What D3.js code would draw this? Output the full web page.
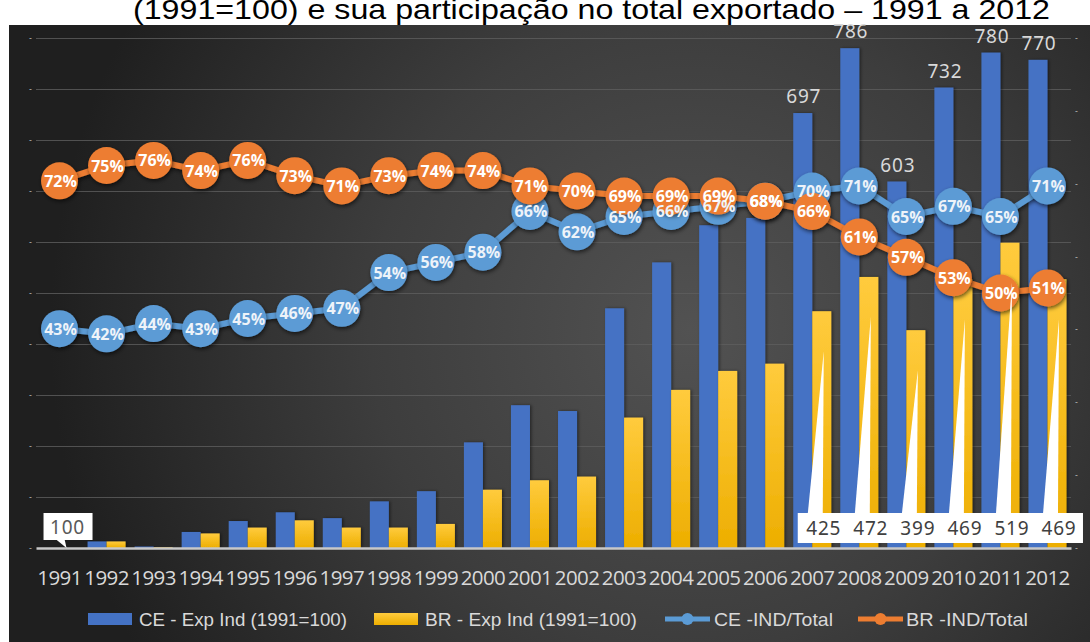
<!DOCTYPE html>
<html><head><meta charset="utf-8">
<script src="https://cdn.jsdelivr.net/npm/d3@7"></script>
<style>body{margin:0;background:#fff;} svg{display:block}</style>
</head><body>
<svg id="chart" width="1090" height="642"></svg>
<script>
// ---- data ----
const titleText = "(1991=100) e sua participação no total exportado – 1991 a 2012";
const years = ["1991","1992","1993","1994","1995","1996","1997","1998","1999","2000","2001","2002","2003","2004","2005","2006","2007","2008","2009","2010","2011","2012"];
const ceExp = [100,109,102,122,137,149,141,164,178,245,296,288,429,492,543,553,697,786,603,732,780,770];
const brExp = [100,109,101,120,128,138,128,128,133,180,193,198,279,317,343,353,425,472,399,469,519,469];
const ceShare = [43,42,44,43,45,46,47,54,56,58,66,62,65,66,67,68,70,71,65,67,65,71];
const brShare = [72,75,76,74,76,73,71,73,74,74,71,70,69,69,69,68,66,61,57,53,50,51];
const barTicks = [100,200,300,400,500,600,700,800];
const seriesNames = ["CE - Exp Ind (1991=100)","BR - Exp Ind (1991=100)","CE -IND/Total","BR -IND/Total"];
const labeledFrom = "2007";

const C = {blueBar:"#4472C4", yellowTop:"#FFCB3D", yellowBot:"#EDAE00", blueLine:"#5B9BD5", orange:"#ED7D31"};

const svg = d3.select("#chart");
const defs = svg.append("defs");
const bg = defs.append("radialGradient").attr("id","bg").attr("gradientUnits","userSpaceOnUse")
  .attr("cx",690).attr("cy",330).attr("r",640);
bg.append("stop").attr("offset","0").attr("stop-color","#525252");
bg.append("stop").attr("offset","0.5").attr("stop-color","#3d3d3d");
bg.append("stop").attr("offset","1").attr("stop-color","#1f1f1f");
const yg = defs.append("linearGradient").attr("id","yg").attr("x1",0).attr("y1",0).attr("x2",0).attr("y2",1);
yg.append("stop").attr("offset","0").attr("stop-color",C.yellowTop);
yg.append("stop").attr("offset","1").attr("stop-color",C.yellowBot);
const sh = defs.append("filter").attr("id","sh").attr("x","-50%").attr("y","-50%").attr("width","200%").attr("height","200%");
sh.append("feDropShadow").attr("dx",1).attr("dy",2).attr("stdDeviation",2).attr("flood-color","#000").attr("flood-opacity",0.6);
const shb = defs.append("filter").attr("id","shb").attr("x","-50%").attr("y","-10%").attr("width","200%").attr("height","120%");
shb.append("feDropShadow").attr("dx",1.5).attr("dy",0).attr("stdDeviation",1.5).attr("flood-color","#000").attr("flood-opacity",0.45);

// background + title
svg.append("rect").attr("x",9).attr("y",25).attr("width",1081).attr("height",617).attr("fill","url(#bg)");
svg.append("text").attr("x",133).attr("y",19).attr("textLength",917).attr("lengthAdjust","spacingAndGlyphs")
  .attr("font-family","Liberation Sans, Arial, sans-serif").attr("font-size",28.5).attr("fill","#000").text(titleText);

// scales
const x = d3.scaleBand().domain(years).range([36,1071]).padding(0);
const yBar = d3.scaleLinear().domain([100,800]).range([548,38]);
const yPct = d3.scaleLinear().domain([0,100]).range([548,38]);
const bw = 19;
const cx = d => x(d) + x.bandwidth()/2;

// gridlines (percentage axis)
const grid = svg.append("g").attr("transform","translate(36,0)")
  .call(d3.axisLeft(yPct).ticks(10).tickSize(-1035).tickFormat(""));
grid.select(".domain").remove();
grid.selectAll("line").attr("stroke","#5e5e5e").attr("stroke-width",1).attr("opacity",0.8);
grid.selectAll(".tick").filter(d=>d===0).remove();
const lAx = svg.append("g").attr("transform","translate(36,0)")
  .call(d3.axisLeft(yPct).ticks(10).tickSize(0).tickPadding(4).tickFormat(()=>"-"));
lAx.select(".domain").remove();
lAx.selectAll("text").attr("fill","#bfbfbf").attr("font-size",8).attr("font-family","DejaVu Sans");
const rAx = svg.append("g").attr("transform","translate(1071,0)")
  .call(d3.axisRight(yBar).tickValues(barTicks).tickSize(0).tickPadding(4).tickFormat(()=>"-"));
rAx.select(".domain").remove();
rAx.selectAll("text").attr("fill","#bfbfbf").attr("font-size",8).attr("font-family","DejaVu Sans");

// bars
const data = years.map((y,i)=>({y, ce:ceExp[i], br:brExp[i], ces:ceShare[i], brs:brShare[i]}));
svg.append("g").selectAll("rect").data(data).join("rect")
  .attr("x",d=>cx(d.y)-bw).attr("width",bw)
  .attr("y",d=>yBar(d.ce)).attr("height",d=>yBar(100)-yBar(d.ce))
  .attr("fill",C.blueBar).attr("filter","url(#shb)");
svg.append("g").selectAll("rect").data(data).join("rect")
  .attr("x",d=>cx(d.y)).attr("width",bw)
  .attr("y",d=>yBar(d.br)).attr("height",d=>yBar(100)-yBar(d.br))
  .attr("fill","url(#yg)").attr("filter","url(#shb)");

// x axis
const xAx = svg.append("g").attr("transform",`translate(0,${yBar(100)})`)
  .call(d3.axisBottom(x).tickSize(0).tickPadding(22));
xAx.select(".domain").attr("stroke","#c8c8c8").attr("stroke-width",2.5);
xAx.selectAll("text").attr("fill","#d9d9d9").attr("font-size",20.5).attr("font-family","Open Sans, sans-serif").attr("letter-spacing","-0.6");

// CE labels above bars
const late = data.filter(d=>d.y>=labeledFrom);
svg.append("g").selectAll("text").data(late).join("text")
  .attr("x",d=>cx(d.y)-bw/2+1).attr("y",d=>yBar(d.ce)-10)
  .attr("text-anchor","middle").attr("fill","#d9d9d9").attr("font-size",19)
  .attr("font-family","Noto Sans, sans-serif").attr("letter-spacing","0.8").text(d=>d.ce);

// lines
const line = key => d3.line().x(d=>cx(d.y)).y(d=>yPct(d[key]));
svg.append("path").datum(data).attr("d",line("ces")).attr("fill","none").attr("stroke",C.blueLine).attr("stroke-width",6).attr("filter","url(#sh)");
svg.append("g").selectAll("circle").data(data).join("circle")
  .attr("cx",d=>cx(d.y)).attr("cy",d=>yPct(d.ces)).attr("r",18.5).attr("fill",C.blueLine).attr("filter","url(#sh)");
svg.append("path").datum(data).attr("d",line("brs")).attr("fill","none").attr("stroke",C.orange).attr("stroke-width",6).attr("filter","url(#sh)");
svg.append("g").selectAll("circle").data(data).join("circle")
  .attr("cx",d=>cx(d.y)).attr("cy",d=>yPct(d.brs)).attr("r",18.5).attr("fill",C.orange).attr("filter","url(#sh)");

// BR callouts (bottom)
const base = yBar(100);
const cg = svg.append("g");
cg.selectAll("path").data(late).join("path")
  .attr("d",d=>{const c=cx(d.y)+bw/2; return `M${c-14},${base-34} L${c+1},${base-34} L${c+2},${yBar(d.br)+40} Z`;})
  .attr("fill","#fff");
const first = late[0], last = late[late.length-1];
cg.append("rect").attr("x",cx(first.y)+bw/2-24).attr("y",base-35)
  .attr("width",(cx(last.y)+bw/2+26)-(cx(first.y)+bw/2-24)).attr("height",30).attr("fill","#fff");
cg.selectAll("text").data(late).join("text")
  .attr("x",d=>cx(d.y)+bw/2+2).attr("y",base-13).attr("text-anchor","middle")
  .attr("fill","#404040").attr("font-size",19).attr("font-family","Noto Sans, sans-serif").attr("letter-spacing","0.8").text(d=>d.br);

// 1991 callout
const d0 = data[0];
const c0 = cx(d0.y)+8;
cg.append("rect").attr("x",c0-24).attr("y",base-35).attr("width",49).attr("height",27).attr("fill","#fff");
cg.append("path").attr("d",`M${c0-12},${base-9} L${c0-1},${base} L${c0-3},${base-9} Z`).attr("fill","#fff");
cg.append("text").attr("x",c0).attr("y",base-14).attr("text-anchor","middle")
  .attr("fill","#595959").attr("font-size",19).attr("font-family","Noto Sans, sans-serif").attr("letter-spacing","0.8").text(d0.ce);

// point labels
const lab = (key,fill) => svg.append("g").selectAll("text").data(data).join("text")
  .attr("x",d=>cx(d.y)+1).attr("y",d=>yPct(d[key])+6).attr("text-anchor","middle")
  .attr("fill",fill).attr("font-size",16).attr("font-weight","bold")
  .attr("font-family","Open Sans, sans-serif").text(d=>d[key]+"%");
lab("ces","#eef3f9");
lab("brs","#ffffff");

// legend
const lg = svg.append("g").attr("font-family","Liberation Sans Narrow, Arial Narrow, sans-serif").attr("font-size",19).attr("fill","#d9d9d9");
const ly = 619;
lg.append("rect").attr("x",88).attr("y",ly-6).attr("width",44).attr("height",12).attr("fill",C.blueBar);
lg.append("text").attr("x",139).attr("y",ly+7).attr("textLength",208).attr("lengthAdjust","spacingAndGlyphs").text(seriesNames[0]);
lg.append("rect").attr("x",374).attr("y",ly-6).attr("width",44).attr("height",12).attr("fill","url(#yg)");
lg.append("text").attr("x",425).attr("y",ly+7).attr("textLength",212).attr("lengthAdjust","spacingAndGlyphs").text(seriesNames[1]);
lg.append("line").attr("x1",665).attr("x2",710).attr("y1",ly).attr("y2",ly).attr("stroke",C.blueLine).attr("stroke-width",5);
lg.append("circle").attr("cx",687.5).attr("cy",ly).attr("r",6).attr("fill",C.blueLine);
lg.append("text").attr("x",714).attr("y",ly+7).attr("textLength",119).attr("lengthAdjust","spacingAndGlyphs").text(seriesNames[2]);
lg.append("line").attr("x1",858).attr("x2",903).attr("y1",ly).attr("y2",ly).attr("stroke",C.orange).attr("stroke-width",5);
lg.append("circle").attr("cx",880.5).attr("cy",ly).attr("r",6).attr("fill",C.orange);
lg.append("text").attr("x",906).attr("y",ly+7).attr("textLength",122).attr("lengthAdjust","spacingAndGlyphs").text(seriesNames[3]);
</script>
</body></html>
